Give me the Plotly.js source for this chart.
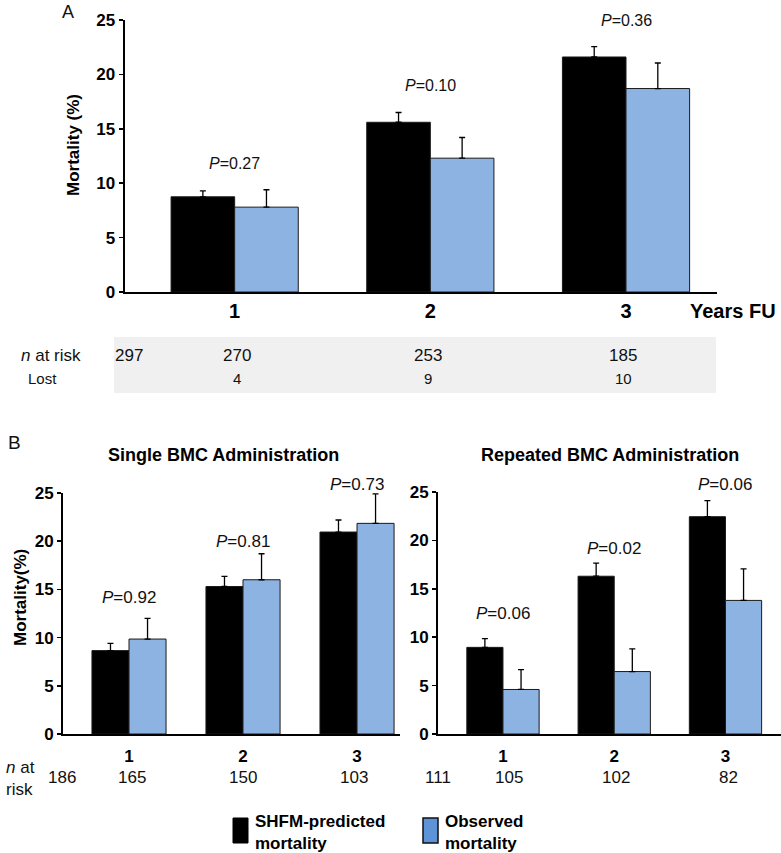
<!DOCTYPE html>
<html>
<head>
<meta charset="utf-8">
<script src="https://cdn.plot.ly/plotly-3.0.1.min.js"></script>
<style>
html, body { margin: 0; padding: 0; background: #fff; }
#myPlot { width: 781px; height: 853px; }
</style>
</head>
<body>
<div id="myPlot"></div>
<script>
const W = 781, H = 853;
const years = ['1', '2', '3'];

// A - all patients (upper error only)
const aPredicted = [8.75, 15.6, 21.6];
const aPredictedErr = [0.55, 0.9, 0.95];
const aObserved = [7.8, 12.3, 18.7];
const aObservedErr = [1.6, 1.9, 2.35];
const aPvalues = ['0.27', '0.10', '0.36'];
const aAtRisk = ['297', '270', '253', '185'];
const aLost = ['', '4', '9', '10'];

// B left - single BMC administration
const sPredicted = [8.65, 15.3, 20.95];
const sPredictedErr = [0.75, 1.05, 1.25];
const sObserved = [9.85, 16.0, 21.85];
const sObservedErr = [2.15, 2.7, 3.05];
const sPvalues = ['0.92', '0.81', '0.73'];
const sAtRisk = ['186', '165', '150', '103'];

// B right - repeated BMC administration
const rPredicted = [8.95, 16.3, 22.45];
const rPredictedErr = [0.9, 1.35, 1.65];
const rObserved = [4.6, 6.45, 13.8];
const rObservedErr = [2.05, 2.35, 3.25];
const rPvalues = ['0.06', '0.02', '0.06'];
const rAtRisk = ['111', '105', '102', '82'];

const black = '#000000';
const blue = '#8db3e2';
const arial = 'Arial, "Liberation Sans", sans-serif';
const yMax = 25;

// pixel -> paper helpers (margins are zero)
function px(x) { return x / W; }
function py(y) { return 1 - y / H; }

// subplot geometry in pixels: x domain, category range, y domain
const panels = {
    A: { x0: 124.5, x1: 717, r0: -0.563, r1: 2.465, top: 20, bottom: 292, xa: 'x', ya: 'y' },
    S: { x0: 63, x1: 400, r0: -0.579, r1: 2.377, top: 493, bottom: 734, xa: 'x2', ya: 'y2' },
    R: { x0: 438, x1: 781, r0: -0.584, r1: 2.499, top: 492, bottom: 734, xa: 'x3', ya: 'y3' }
};
// category index -> paper x, value -> paper y (annotations may sit outside the axis range)
function catX(p, i) { return px(p.x0 + (i - p.r0) / (p.r1 - p.r0) * (p.x1 - p.x0)); }
function valY(p, v) { return py(p.bottom - v / yMax * (p.bottom - p.top)); }

function bars(vals, errs, color, p) {
    return {
        type: 'bar', x: years, y: vals, xaxis: p.xa, yaxis: p.ya,
        marker: { color: color, line: { color: '#1a1a1a', width: 1 } },
        error_y: {
            type: 'data', symmetric: false, array: errs,
            arrayminus: errs.map(() => 0),
            color: '#000', thickness: 1.3, width: 3
        },
        showlegend: false, hoverinfo: 'skip'
    };
}

const data = [
    bars(aPredicted, aPredictedErr, black, panels.A),
    bars(aObserved, aObservedErr, blue, panels.A),
    bars(sPredicted, sPredictedErr, black, panels.S),
    bars(sObserved, sObservedErr, blue, panels.S),
    bars(rPredicted, rPredictedErr, black, panels.R),
    bars(rObserved, rObservedErr, blue, panels.R)
];

function xAxis(p, standoff, size) {
    return {
        domain: [px(p.x0), px(p.x1)], range: [p.r0, p.r1], anchor: p.ya,
        type: 'category', showline: true, linecolor: '#000', linewidth: 2,
        ticks: '', showgrid: false, zeroline: false, fixedrange: true,
        ticklabelstandoff: standoff,
        tickfont: { family: arial, size: size, color: '#000', weight: 'bold' }
    };
}
function yAxis(p, size) {
    return {
        domain: [py(p.bottom), py(p.top)], range: [0, yMax], dtick: 5, anchor: p.xa,
        showline: true, linecolor: '#000', linewidth: 2,
        ticks: 'outside', ticklen: 4, tickwidth: 1.5, tickcolor: '#000',
        showgrid: false, zeroline: false, fixedrange: true,
        tickfont: { family: arial, size: size, color: '#000', weight: 'bold' }
    };
}

const annotations = [];
function note(text, x, y, size, extra) {
    annotations.push(Object.assign({
        text: text, x: x, y: y, xref: 'paper', yref: 'paper',
        showarrow: false, xanchor: 'center', yanchor: 'middle',
        font: { family: arial, size: size, color: '#111' }
    }, extra || {}));
}
function pixNote(text, x, y, size, extra) { note(text, px(x), py(y), size, extra); }
const bold = (size) => ({ font: { family: arial, size: size, color: '#000', weight: 'bold' } });

// P values, placed above the taller error bar
function pLabels(p, pred, predErr, obs, obsErr, pv, offsets, size) {
    for (let i = 0; i < years.length; i++) {
        const top = Math.max(pred[i] + predErr[i], obs[i] + obsErr[i]);
        note('<i>P</i>=' + pv[i], catX(p, i), valY(p, top + offsets[i]), size);
    }
}
pLabels(panels.A, aPredicted, aPredictedErr, aObserved, aObservedErr, aPvalues, [2.45, 2.45, 2.45], 16);
pLabels(panels.S, sPredicted, sPredictedErr, sObserved, sObservedErr, sPvalues, [2.2, 1.25, 0.95], 17);
pLabels(panels.R, rPredicted, rPredictedErr, rObserved, rObservedErr, rPvalues, [2.55, 1.5, 1.7], 17);

// at-risk rows (first number sits at the axis start)
function riskRow(p, vals, yPix, size, pos) {
    vals.forEach((v, i) => {
        if (v !== '') note(v, catX(p, pos[i]), py(yPix), size);
    });
}
riskRow(panels.A, aAtRisk, 355, 17, [-0.54, 0.013, 0.99, 1.986]);
riskRow(panels.A, aLost, 378, 15, [-0.54, 0.013, 0.99, 1.986]);
riskRow(panels.S, sAtRisk, 777, 17, [-0.59, 0.03, 1, 1.97]);
riskRow(panels.R, rAtRisk, 777, 17, [-0.58, 0.05, 1.02, 2.03]);

// panel labels and titles
pixNote('A', 68, 12, 18);
pixNote('B', 14, 442, 19);
pixNote('Mortality (%)', 73, 145, 17, Object.assign({ textangle: -90 }, bold(17)));
pixNote('Years FU', 688, 311, 20, Object.assign({ xanchor: 'left' }, bold(20)));
pixNote('<i>n</i> at risk', 19, 355, 17, { xanchor: 'left' });
pixNote('Lost', 26, 378, 15, { xanchor: 'left' });
pixNote('Single BMC Administration', 223, 455, 18, bold(18));
pixNote('Repeated BMC Administration', 610, 455, 18, bold(18));
pixNote('Mortality(%)', 20, 598, 17, Object.assign({ textangle: -90 }, bold(17)));
pixNote('<i>n</i> at<br>risk', 4, 778, 17, { xanchor: 'left', align: 'left' });

// legend
pixNote('SHFM-predicted<br>mortality', 253, 832, 17, Object.assign({ xanchor: 'left', align: 'left' }, bold(17)));
pixNote('Observed<br>mortality', 443, 832, 17, Object.assign({ xanchor: 'left', align: 'left' }, bold(17)));

const shapes = [
    { type: 'rect', xref: 'paper', yref: 'paper', x0: px(114), x1: px(716), y0: py(393), y1: py(337),
      fillcolor: '#f0f0f0', line: { width: 0 }, layer: 'below' },
    { type: 'rect', xref: 'paper', yref: 'paper', x0: px(233), x1: px(248), y0: py(843), y1: py(818),
      fillcolor: '#000', line: { color: '#000', width: 1 } },
    { type: 'rect', xref: 'paper', yref: 'paper', x0: px(423), x1: px(438), y0: py(843), y1: py(818),
      fillcolor: '#5e93d8', line: { color: '#111', width: 1.5 } }
];

const layout = {
    width: W, height: H,
    margin: { l: 0, r: 0, t: 0, b: 0 },
    paper_bgcolor: '#fff', plot_bgcolor: 'rgba(0,0,0,0)',
    barmode: 'group', bargap: 0.35, bargroupgap: 0,
    showlegend: false,
    xaxis: xAxis(panels.A, 0, 20),
    yaxis: yAxis(panels.A, 17),
    xaxis2: xAxis(panels.S, 6, 17),
    yaxis2: yAxis(panels.S, 17),
    xaxis3: xAxis(panels.R, 6, 17),
    yaxis3: yAxis(panels.R, 17),
    annotations: annotations,
    shapes: shapes
};

const configs = { staticPlot: true, displayModeBar: false };

window.onload = function () {
    Plotly.newPlot('myPlot', data, layout, configs);
};
</script>
</body>
</html>
